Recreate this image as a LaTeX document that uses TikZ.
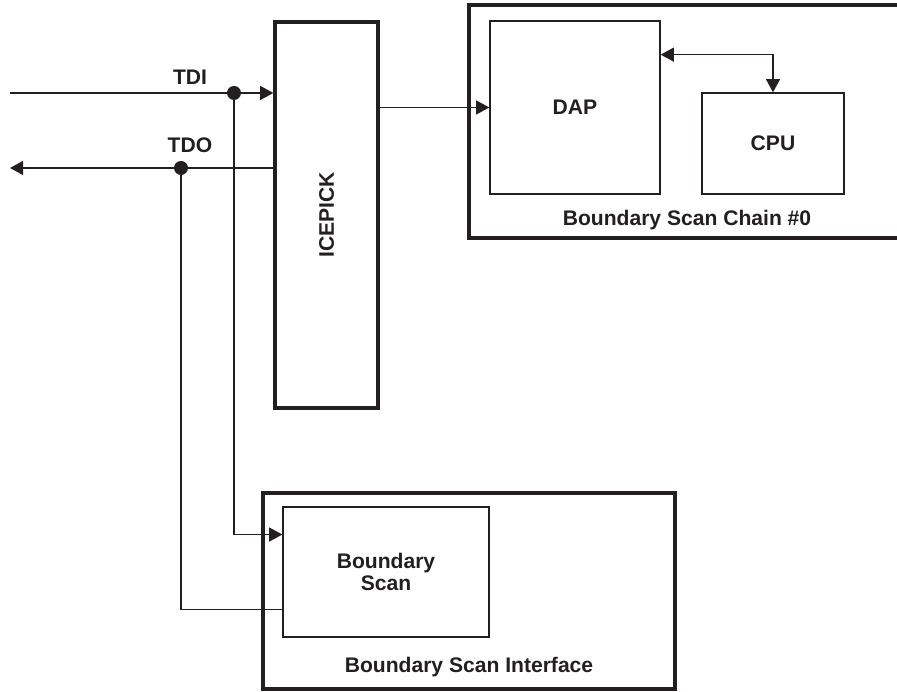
\documentclass[tikz,border=0pt]{standalone}
\usepackage{fontspec}
\setmainfont{Liberation Sans}
\usetikzlibrary{arrows.meta,calc}
\definecolor{ink}{HTML}{231F20}
\begin{document}
\begin{tikzpicture}[line join=miter, >={Triangle[length=7.5pt,width=8pt]}, color=ink,
	font=\fontsize{12}{14}\selectfont\bfseries]

		\tikzset{thickbox/.style={draw, line width=1.9pt, inner sep=0pt},
			thinbox/.style={draw, line width=0.8pt, inner sep=0pt},
			wire/.style={line width=0.65pt},
			dot/.style={circle, fill, inner sep=0pt, minimum size=0.28cm}}

		\useasboundingbox (0,0) rectangle (17.94,13.84);

		% boxes
		\node[thickbox, minimum width=2.06cm, minimum height=7.72cm,
			label={[rotate=90]center:ICEPICK}] (icepick) at (6.53,9.54) {};
		\draw[line width=1.9pt] (17.94,13.74) -- (9.38,13.74) -- (9.38,9.08) -- (17.94,9.08);
		\node[thinbox, minimum width=3.4cm, minimum height=3.46cm] (dap) at (11.5,11.69) {DAP};
		\node[thinbox, minimum width=2.84cm, minimum height=2.02cm] (cpu) at (15.46,10.97) {CPU};
		\node (chain) at (13.74,9.44) {Boundary Scan Chain \#0};
		\node[thickbox, minimum width=8.24cm, minimum height=3.92cm] (iface) at (9.38,2.02) {};
		\node[thinbox, minimum width=4.12cm, minimum height=2.6cm, align=center] (bscan) at (7.72,2.4) {Boundary\\[-2pt]Scan};
		\node (ifacelbl) at (9.38,0.5) {Boundary Scan Interface};

		% pins
		\coordinate (tdiin) at (0.2,11.98);
		\coordinate (tdoout) at (0.2,10.48);
		\node[dot] (tdidot) at (4.68,11.98) {};
		\node[dot] (tdodot) at (3.62,10.48) {};
		\node (tdilbl) at (3.8,12.3) {TDI};
		\node (tdolbl) at (3.8,10.94) {TDO};

		\draw[wire,->] (tdiin) -- (tdidot.center) -- (tdidot -| icepick.west);
		\draw[wire,->] (tdodot -| icepick.west) -- (tdodot.center) -- (tdoout);
		\draw[wire,->] (tdidot.center) |- ($(bscan.north west)!0.215!(bscan.south west)$);
		\draw[wire] (tdodot.center) |- ($(bscan.north west)!0.785!(bscan.south west)$);
		\draw[wire,->] (icepick.east |- dap.west) -- (dap.west);
		\draw[wire,<->] ($(dap.north east)!0.197!(dap.south east)$) -| (cpu.north);

		\end{tikzpicture}
\end{document}
